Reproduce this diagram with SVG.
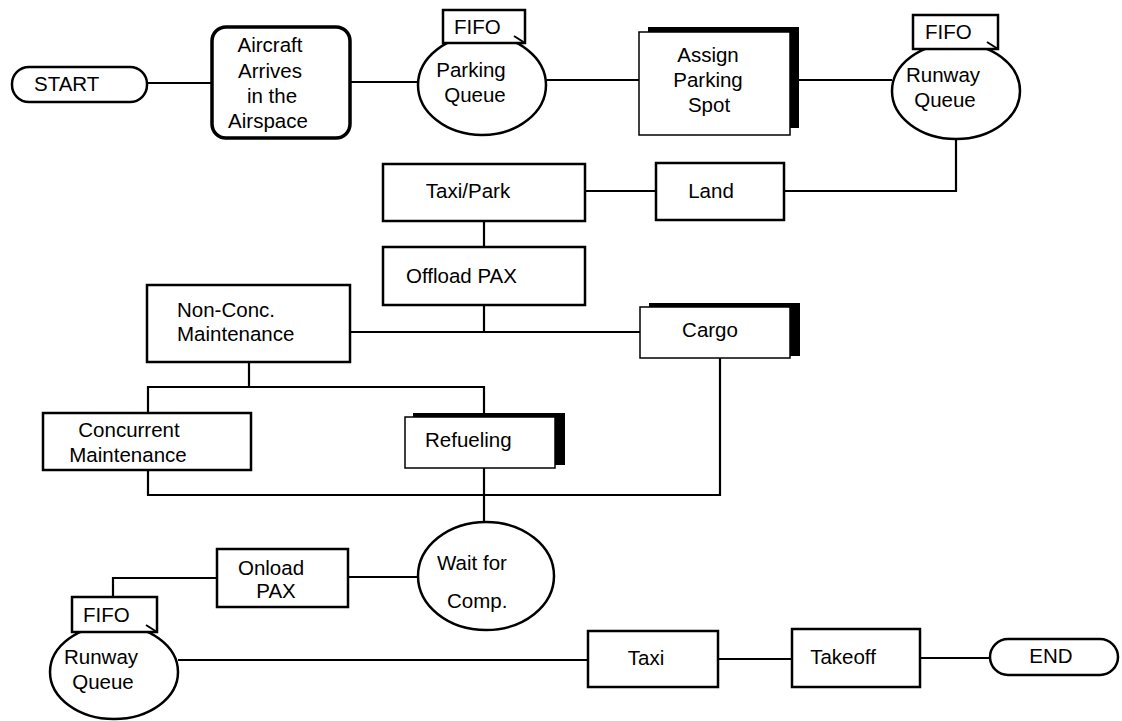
<svg xmlns="http://www.w3.org/2000/svg" width="1122" height="721" viewBox="0 0 1122 721">
<style>
.b{fill:#fff;stroke:#000;stroke-width:2.5}
.sh{fill:#000}
.bx{fill:#fff;stroke:#000;stroke-width:1.5}
.tk{fill:none;stroke:#000;stroke-width:2}
text{font-family:"Liberation Sans",Arial,sans-serif;font-size:20.5px;fill:#000}
.m{text-anchor:middle}
#connectors path{fill:none;stroke:#000;stroke-width:2.2}
</style>
<rect width="1122" height="721" fill="#fff"/>
<g id="connectors">
<path d="M147,83H212"/>
<path d="M350,82H418"/>
<path d="M547,80H639"/>
<path d="M799,80H892"/>
<path d="M956,139V191H784"/>
<path d="M656,191H585"/>
<path d="M484,221V247"/>
<path d="M484,305V332"/>
<path d="M350,332H640"/>
<path d="M249,362V387"/>
<path d="M148,413V387H484V417"/>
<path d="M148,470V495H720V358"/>
<path d="M484,468V522"/>
<path d="M348,577H418"/>
<path d="M217,578H113V597"/>
<path d="M178,660H588"/>
<path d="M718,659H792"/>
<path d="M920,658H990"/>
</g>
<g id="start"><rect class="b" x="12" y="67" width="135" height="35" rx="17"/><text x="34" y="91">START</text></g>
<g id="aircraft"><rect class="b" x="212" y="27" width="138" height="111" rx="14" style="stroke-width:3.5"/>
<text class="m" x="270" y="52">Aircraft</text><text class="m" x="270" y="78">Arrives</text><text class="m" x="272" y="103">in the</text><text class="m" x="268" y="128">Airspace</text></g>
<g id="parking-queue"><ellipse class="b" cx="482" cy="85" rx="64" ry="50"/><rect class="b" x="443" y="10" width="82" height="33"/>
<path class="tk" d="M514,36L525,43"/>
<text x="454" y="34">FIFO</text><text class="m" x="471" y="77">Parking</text><text class="m" x="475" y="102">Queue</text></g>
<g id="assign"><rect class="sh" x="648" y="27" width="151" height="101"/><rect class="bx" x="639" y="32" width="151" height="103"/>
<text class="m" x="708" y="62">Assign</text><text class="m" x="708" y="87">Parking</text><text class="m" x="709" y="112">Spot</text></g>
<g id="runway-queue-1"><ellipse class="b" cx="956" cy="91" rx="64" ry="48"/><rect class="b" x="913" y="15" width="85" height="34"/>
<path class="tk" d="M987,42L998,49"/>
<text x="925" y="39">FIFO</text><text class="m" x="943" y="82">Runway</text><text class="m" x="945" y="107">Queue</text></g>
<g id="land"><rect class="b" x="656" y="163" width="128" height="57"/><text class="m" x="711" y="198">Land</text></g>
<g id="taxi-park"><rect class="b" x="383" y="164" width="202" height="57"/><text class="m" x="468" y="198">Taxi/Park</text></g>
<g id="offload"><rect class="b" x="383" y="247" width="202" height="58"/><text x="406" y="283">Offload PAX</text></g>
<g id="non-conc"><rect class="b" x="147" y="285" width="203" height="77"/><text x="177" y="317">Non-Conc.</text><text x="177" y="341">Maintenance</text></g>
<g id="cargo"><rect class="sh" x="649" y="303" width="151" height="53"/><rect class="bx" x="640" y="307" width="150" height="51"/><text class="m" x="710" y="337">Cargo</text></g>
<g id="concurrent"><rect class="b" x="43" y="413" width="208" height="57"/><text class="m" x="129" y="437">Concurrent</text><text class="m" x="128" y="462">Maintenance</text></g>
<g id="refueling"><rect class="sh" x="413" y="413" width="152" height="52"/><rect class="bx" x="405" y="417" width="150" height="51"/><text x="425" y="447">Refueling</text></g>
<g id="wait"><ellipse class="b" cx="486" cy="576" rx="68" ry="54"/><text x="437" y="570">Wait for</text><text x="447" y="608">Comp.</text></g>
<g id="onload"><rect class="b" x="217" y="549" width="131" height="58"/><text class="m" x="271" y="575">Onload</text><text class="m" x="276" y="598">PAX</text></g>
<g id="runway-queue-2"><ellipse class="b" cx="114" cy="672" rx="64" ry="47"/><rect class="b" x="72" y="597" width="85" height="35"/>
<path class="tk" d="M146,625L157,632"/>
<text x="83" y="622">FIFO</text><text class="m" x="101" y="664">Runway</text><text class="m" x="103" y="689">Queue</text></g>
<g id="taxi"><rect class="b" x="588" y="631" width="130" height="56"/><text class="m" x="646" y="665">Taxi</text></g>
<g id="takeoff"><rect class="b" x="792" y="629" width="128" height="58"/><text class="m" x="843" y="664">Takeoff</text></g>
<g id="end"><rect class="b" x="990" y="639" width="128" height="36" rx="18"/><text class="m" x="1051" y="663">END</text></g>
</svg>
